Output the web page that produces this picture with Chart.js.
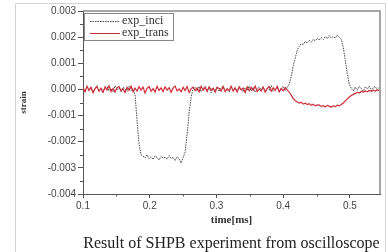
<!DOCTYPE html>
<html>
<head>
<meta charset="utf-8">
<script src="https://cdn.jsdelivr.net/npm/chart.js@4/dist/chart.umd.min.js"></script>
<style>
html,body{margin:0;padding:0;background:#fff;}
canvas{display:block;}
</style>
</head>
<body>
<canvas id="c" width="388" height="252"></canvas>
<script>
// time [ms]
const timeMs = [
0.100,0.103,0.106,0.109,0.112,0.115,0.118,0.121,0.124,0.127,
0.130,0.133,0.136,0.139,0.142,0.145,0.148,0.151,0.154,0.157,
0.160,0.163,0.166,0.169,0.172,0.175,0.178,0.181,0.184,0.187,
0.190,0.193,0.196,0.199,0.202,0.205,0.208,0.211,0.214,0.217,
0.220,0.223,0.226,0.229,0.232,0.235,0.238,0.241,0.244,0.247,
0.250,0.253,0.256,0.259,0.262,0.265,0.268,0.271,0.274,0.277,
0.280,0.283,0.286,0.289,0.292,0.295,0.298,0.301,0.304,0.307,
0.310,0.313,0.316,0.319,0.322,0.325,0.328,0.331,0.334,0.337,
0.340,0.343,0.346,0.349,0.352,0.355,0.358,0.361,0.364,0.367,
0.370,0.373,0.376,0.379,0.382,0.385,0.388,0.391,0.394,0.397,
0.400,0.403,0.406,0.409,0.412,0.415,0.418,0.421,0.424,0.427,
0.430,0.433,0.436,0.439,0.442,0.445,0.448,0.451,0.454,0.457,
0.460,0.463,0.466,0.469,0.472,0.475,0.478,0.481,0.484,0.487,
0.490,0.493,0.496,0.499,0.502,0.505,0.508,0.511,0.514,0.517,
0.520,0.523,0.526,0.529,0.532,0.535,0.538,0.541,0.544
];

// incident strain
const expInci = [
0.00005,-0.00008,0.00012,-0.00003,0.00009,-0.00011,0.00004,0.00015,-0.00006,0.00002,
-0.00013,0.00008,0.00011,-0.00005,0.00003,-0.00009,0.00014,-0.00002,0.00006,-0.00010,
0.00009,0.00001,-0.00007,0.00012,-0.00004,0.00003,
-0.0002,-0.0012,-0.0021,-0.0025,
-0.00255,-0.00262,-0.00250,-0.00265,-0.00258,-0.00268,-0.00254,-0.00261,-0.00270,-0.00256,
-0.00263,-0.00259,-0.00267,-0.00253,-0.00264,-0.00260,-0.00272,-0.00258,-0.00265,-0.00282,-0.00260,
-0.0024,-0.0017,-0.0009,-0.0003,0.00004,
0.00008,-0.00006,0.00011,-0.00009,0.00003,0.00013,-0.00004,0.00007,-0.00012,0.00005,
-0.00002,0.00010,-0.00008,0.00006,0.00012,-0.00005,0.00002,-0.00010,0.00009,-0.00003,
0.00004,-0.00007,0.00011,0.00001,-0.00009,0.00006,-0.00004,0.00013,-0.00006,0.00008,
-0.00011,0.00003,0.00009,-0.00002,0.00010,-0.00008,0.00005,-0.00003,0.00014,-0.00007,
0.00002,0.00009,-0.00010,0.00006,0.00012,-0.00004,0.00007,
0.0002,0.0005,0.0009,0.0012,0.0015,0.00165,0.00175,
0.00172,0.00183,0.00178,0.00188,0.00181,0.00192,0.00186,0.00195,0.00189,0.00198,
0.00191,0.00202,0.00194,0.00206,0.00197,0.00203,0.00196,0.00208,0.00199,0.00193,
0.0016,0.0011,0.0006,0.0002,0.00003,
-0.00006,0.00009,-0.00003,0.00012,0.00004,-0.00008,0.00010,0.00002,0.00013,-0.00005,
0.00007,0.00011,-0.00002,0.00008
];

// transmitted strain
const expTrans = [
0.00006,-0.00009,0.00012,-0.00004,0.00008,-0.00013,0.00003,0.00010,-0.00007,0.00005,
-0.00011,0.00009,-0.00002,0.00014,-0.00008,0.00004,-0.00010,0.00007,0.00011,-0.00005,
0.00002,-0.00012,0.00008,-0.00003,0.00013,-0.00009,0.00005,-0.00006,0.00010,-0.00002,
0.00009,-0.00014,0.00004,0.00011,-0.00007,0.00003,-0.00010,0.00012,-0.00004,0.00006,
-0.00008,0.00010,-0.00003,0.00007,-0.00011,0.00005,0.00013,-0.00006,0.00002,-0.00009,
0.00008,-0.00004,0.00011,-0.00012,0.00003,0.00009,-0.00005,0.00006,-0.00010,0.00012,
-0.00003,0.00007,-0.00008,0.00010,-0.00002,0.00005,-0.00011,0.00008,0.00004,-0.00006,
0.00011,-0.00009,0.00003,-0.00004,0.00012,-0.00007,0.00006,-0.00010,0.00009,-0.00002,
0.00005,-0.00012,0.00010,-0.00005,0.00008,-0.00003,0.00013,-0.00008,0.00002,-0.00006,
0.00009,-0.00010,0.00004,0.00011,-0.00007,0.00006,-0.00004,0.00012,-0.00009,0.00003,
-0.00005,0.00007,
-0.00003,-0.00010,-0.00022,-0.00035,-0.00043,-0.00048,
-0.00052,-0.00049,-0.00056,-0.00053,-0.00058,-0.00055,-0.00061,-0.00057,-0.00063,-0.00059,
-0.00060,-0.00065,-0.00062,-0.00067,-0.00061,-0.00064,-0.00068,-0.00062,-0.00066,-0.00060,
-0.00063,-0.00058,
-0.00052,-0.00044,-0.00036,-0.00029,-0.00023,-0.00019,
-0.00015,-0.00011,-0.00014,-0.00008,-0.00010,-0.00006,-0.00009,-0.00004,-0.00007,-0.00003,
-0.00006,-0.00002,-0.00005
];

const seriesNames = ['exp_inci', 'exp_trans'];
const xTickStep = 0.1;
const yTickStep = 0.001;
const captionText = 'Result of SHPB experiment from oscilloscope';

const toXY = (ys) => ys.map((y, i) => ({x: timeMs[i], y: y}));

const framePlugin = {
  id: 'frame',
  beforeDraw(chart) {
    const ctx = chart.ctx;
    ctx.save();
    ctx.fillStyle = '#fff';
    ctx.fillRect(0, 0, chart.width, chart.height);
    ctx.strokeStyle = '#d4d4d4';
    ctx.lineWidth = 1;
    ctx.beginPath();
    ctx.moveTo(15.5, 252);
    ctx.lineTo(15.5, 3.5);
    ctx.lineTo(385.5, 3.5);
    ctx.lineTo(385.5, 252);
    ctx.stroke();
    ctx.restore();
  },
  afterDraw(chart) {
    const ctx = chart.ctx;
    const a = chart.chartArea;
    ctx.save();
    // top & right frame
    ctx.strokeStyle = '#8a8a8a';
    ctx.lineWidth = 1.5;
    ctx.beginPath();
    ctx.moveTo(a.left, a.top);
    ctx.lineTo(a.right, a.top);
    ctx.lineTo(a.right, a.bottom);
    ctx.stroke();
    // minor ticks
    ctx.strokeStyle = '#555';
    ctx.lineWidth = 1;
    const xs = chart.scales.x, ys = chart.scales.y;
    ctx.beginPath();
    for (let i = 0; i < xs.ticks.length; i++) {
      const v = xs.ticks[i].value + xTickStep / 2;
      if (v > xs.max) continue;
      const px = Math.round(xs.getPixelForValue(v)) + 0.5;
      ctx.moveTo(px, a.bottom);
      ctx.lineTo(px, a.bottom + 2.5);
    }
    for (let i = 0; i < ys.ticks.length - 1; i++) {
      const v = ys.ticks[i].value + yTickStep / 2;
      const py = Math.round(ys.getPixelForValue(v)) + 0.5;
      ctx.moveTo(a.left, py);
      ctx.lineTo(a.left - 3, py);
    }
    ctx.stroke();
    // legend
    const lx = a.left + 1, ly = a.top + 2, lw = 89, lh = 27;
    ctx.fillStyle = '#fff';
    ctx.fillRect(lx, ly, lw, lh);
    ctx.strokeStyle = '#888';
    ctx.lineWidth = 1;
    ctx.strokeRect(lx + 0.5, ly + 0.5, lw, lh);
    chart.data.datasets.forEach((ds, i) => {
      const yy = ly + 8 + i * 12;
      ctx.strokeStyle = ds.borderColor;
      ctx.lineWidth = 1;
      ctx.setLineDash(ds.borderDash || []);
      ctx.beginPath();
      ctx.moveTo(lx + 6, yy + 0.5);
      ctx.lineTo(lx + 36, yy + 0.5);
      ctx.stroke();
      ctx.setLineDash([]);
      ctx.fillStyle = '#333';
      ctx.font = '12px "Liberation Serif", serif';
      ctx.textBaseline = 'middle';
      ctx.textAlign = 'left';
      ctx.fillText(ds.label, lx + 38, yy);
    });
    ctx.restore();
  }
};

new Chart(document.getElementById('c'), {
  type: 'line',
  data: {
    datasets: [
      {
        label: seriesNames[0],
        data: toXY(expInci),
        borderColor: '#4a4a4a',
        borderWidth: 1,
        borderDash: [1.5, 1],
        pointRadius: 0,
        tension: 0,
        order: 1
      },
      {
        label: seriesNames[1],
        data: toXY(expTrans),
        borderColor: '#cc2f3a',
        borderWidth: 1.2,
        pointRadius: 0,
        tension: 0,
        order: 0
      }
    ]
  },
  options: {
    responsive: false,
    animation: false,
    devicePixelRatio: 1,
    layout: {padding: {left: 0, right: 8, top: 11, bottom: 0}},
    plugins: {
      legend: {display: false},
      tooltip: {enabled: false},
      title: {
        display: true,
        position: 'bottom',
        fullSize: false,
        text: captionText,
        color: '#222',
        font: {family: '"Liberation Serif", serif', size: 16, weight: 'normal', lineHeight: 1},
        padding: {top: 0, bottom: 0}
      }
    },
    scales: {
      x: {
        type: 'linear',
        min: 0.1,
        max: 0.545,
        afterFit(s) { s.height = 42; },
        ticks: {
          stepSize: xTickStep,
          includeBounds: false,
          autoSkip: false,
          maxRotation: 0,
          padding: 2,
          color: '#444',
          font: {family: '"Liberation Sans", Arial, sans-serif', size: 10},
          callback: (v) => Number(v).toFixed(1)
        },
        grid: {drawOnChartArea: false, drawTicks: true, tickLength: 4, color: '#555'},
        border: {color: '#555', width: 1},
        title: {
          display: true,
          text: 'time[ms]',
          color: '#333',
          font: {family: '"Liberation Serif", serif', size: 11, weight: 'bold'},
          padding: {top: 0, bottom: 9}
        }
      },
      y: {
        min: -0.004,
        max: 0.003,
        afterFit(s) { s.width = 83; },
        ticks: {
          stepSize: yTickStep,
          padding: 2,
          color: '#444',
          font: {family: '"Liberation Sans", Arial, sans-serif', size: 10},
          callback: (v) => (Math.abs(v) < 1e-9 ? 0 : Number(v)).toFixed(3)
        },
        grid: {drawOnChartArea: false, drawTicks: true, tickLength: 5, color: '#555'},
        border: {color: '#555', width: 1},
        title: {
          display: true,
          text: 'strain',
          color: '#333',
          font: {family: '"Liberation Serif", serif', size: 9, weight: 'bold'},
          padding: {top: 18, bottom: 0}
        }
      }
    }
  },
  plugins: [framePlugin]
});
</script>
</body>
</html>
